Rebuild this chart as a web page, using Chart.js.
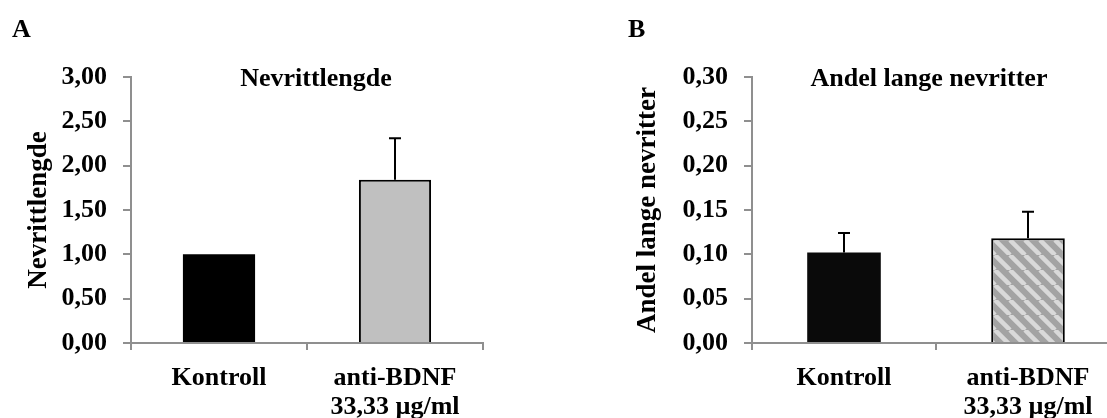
<!DOCTYPE html>
<html>
<head>
<meta charset="utf-8">
<script src="https://cdn.jsdelivr.net/npm/chart.js@4"></script>
<style>
    html, body { margin: 0; padding: 0; background: #fff; overflow: hidden; }
    body { width: 1107px; height: 418px; position: relative; }
    .panel { position: absolute; top: 0; height: 418px; }
    #panelA { left: 0; width: 560px; }
    #panelB { left: 560px; width: 600px; }
</style>
</head>
<body>
<div class="panel" id="panelA"><canvas id="chartA"></canvas></div>
<div class="panel" id="panelB"><canvas id="chartB"></canvas></div>
<script>
// Data
var groups = ['Kontroll', ['anti-BDNF', '33,33 µg/ml']];

var lengthMean = [1.00, 1.84];
var lengthErr = [0.00, 0.47];
var lengthTicks = { min: 0, max: 3, step: 0.5 };

var longMean = [0.102, 0.118];
var longErr = [0.022, 0.030];
var longTicks = { min: 0, max: 0.3, step: 0.05 };

var FONT = "'Liberation Serif', 'Times New Roman', serif";
var AXIS_GREY = '#8f8f8f';

// Diagonal striped fill for the treated bar in panel B
function makeStripes() {
    var size = 15;
    var c = document.createElement('canvas');
    c.width = size;
    c.height = size;
    var g = c.getContext('2d');
    g.fillStyle = '#a3a3a3';
    g.fillRect(0, 0, size, size);
    g.strokeStyle = '#d9d9d9';
    g.lineWidth = 4.5;
    for (var k = -1; k <= 1; k++) {
        g.beginPath();
        g.moveTo(k * size, 0);
        g.lineTo(k * size + size, size);
        g.stroke();
    }
    return g.createPattern(c, 'repeat');
}

// Upper error bars, drawn through the y scale
var errorBars = {
    id: 'errorBars',
    afterDatasetsDraw: function(chart, args, opts) {
        var ctx = chart.ctx;
        var yScale = chart.scales.y;
        var meta = chart.getDatasetMeta(0);
        var values = chart.data.datasets[0].data;
        ctx.save();
        ctx.strokeStyle = '#000';
        ctx.lineWidth = 2;
        for (var i = 0; i < meta.data.length; i++) {
            if (opts.errors[i] <= 0) continue;
            var bar = meta.data[i];
            var top = yScale.getPixelForValue(values[i] + opts.errors[i]);
            ctx.beginPath();
            ctx.moveTo(bar.x, bar.y);
            ctx.lineTo(bar.x, top);
            ctx.moveTo(bar.x - 6, top);
            ctx.lineTo(bar.x + 6, top);
            ctx.stroke();
        }
        ctx.restore();
    }
};

// Panel letter and chart heading
var panelText = {
    id: 'panelText',
    afterDraw: function(chart, args, opts) {
        var ctx = chart.ctx;
        var area = chart.chartArea;
        ctx.save();
        ctx.fillStyle = '#000';
        ctx.font = 'bold 26px ' + FONT;
        ctx.textBaseline = 'alphabetic';
        ctx.textAlign = 'left';
        ctx.fillText(opts.letter, opts.letterX, 37);
        ctx.textAlign = 'center';
        ctx.fillText(opts.title, (area.left + area.right) / 2 + opts.titleShift, area.top + 9);
        ctx.restore();
    }
};

function buildChart(canvasId, values, errors, colors, borders, ticks, axisTitle, opt) {
    var ctx = document.getElementById(canvasId).getContext('2d');
    return new Chart(ctx, {
        type: 'bar',
        data: {
            labels: groups,
            datasets: [{
                data: values,
                backgroundColor: colors,
                borderColor: '#000',
                borderWidth: borders,
                barPercentage: opt.barPct,
                categoryPercentage: 1.0
            }]
        },
        options: {
            responsive: true,
            maintainAspectRatio: false,
            animation: false,
            layout: { padding: { left: 0, right: opt.rightPad, top: 77, bottom: 0 } },
            plugins: {
                legend: { display: false },
                tooltip: { enabled: false },
                errorBars: { errors: errors },
                panelText: { letter: opt.letter, letterX: opt.letterX, title: opt.title, titleShift: opt.titleShift }
            },
            scales: {
                x: {
                    offset: true,
                    grid: { offset: true, drawOnChartArea: false, color: AXIS_GREY, lineWidth: 2, tickLength: 7 },
                    border: { color: AXIS_GREY, width: 2 },
                    ticks: {
                        color: '#000',
                        padding: 14,
                        font: { family: FONT, size: 26, weight: 'bold', lineHeight: 1.1 }
                    },
                    afterFit: function(scale) { scale.height = 75; }
                },
                y: {
                    min: ticks.min,
                    max: ticks.max,
                    grid: { drawOnChartArea: false, color: AXIS_GREY, lineWidth: 2, tickLength: 8 },
                    border: { color: AXIS_GREY, width: 2 },
                    ticks: {
                        stepSize: ticks.step,
                        color: '#000',
                        padding: 16,
                        font: { family: FONT, size: 26, weight: 'bold' },
                        callback: function(v) { return v.toFixed(2).replace('.', ','); }
                    },
                    title: {
                        display: true,
                        text: axisTitle,
                        color: '#000',
                        padding: { top: opt.titlePad, bottom: 0 },
                        font: { family: FONT, size: 27, weight: 'bold' }
                    },
                    afterFit: function(scale) { scale.width = opt.axisWidth; }
                }
            }
        },
        plugins: [errorBars, panelText]
    });
}

buildChart('chartA', lengthMean, lengthErr, ['#000000', '#c0c0c0'], [0, 2], lengthTicks, 'Nevrittlengde', {
    barPct: 0.41, rightPad: 77, axisWidth: 131, titlePad: 23,
    letter: 'A', letterX: 12, title: 'Nevrittlengde', titleShift: 9
});

buildChart('chartB', longMean, longErr, ['#0a0a0a', makeStripes()], [0, 2], longTicks, 'Andel lange nevritter', {
    barPct: 0.40, rightPad: 40, axisWidth: 192, titlePad: 72,
    letter: 'B', letterX: 68, title: 'Andel lange nevritter', titleShift: -7
});
</script>
</body>
</html>
